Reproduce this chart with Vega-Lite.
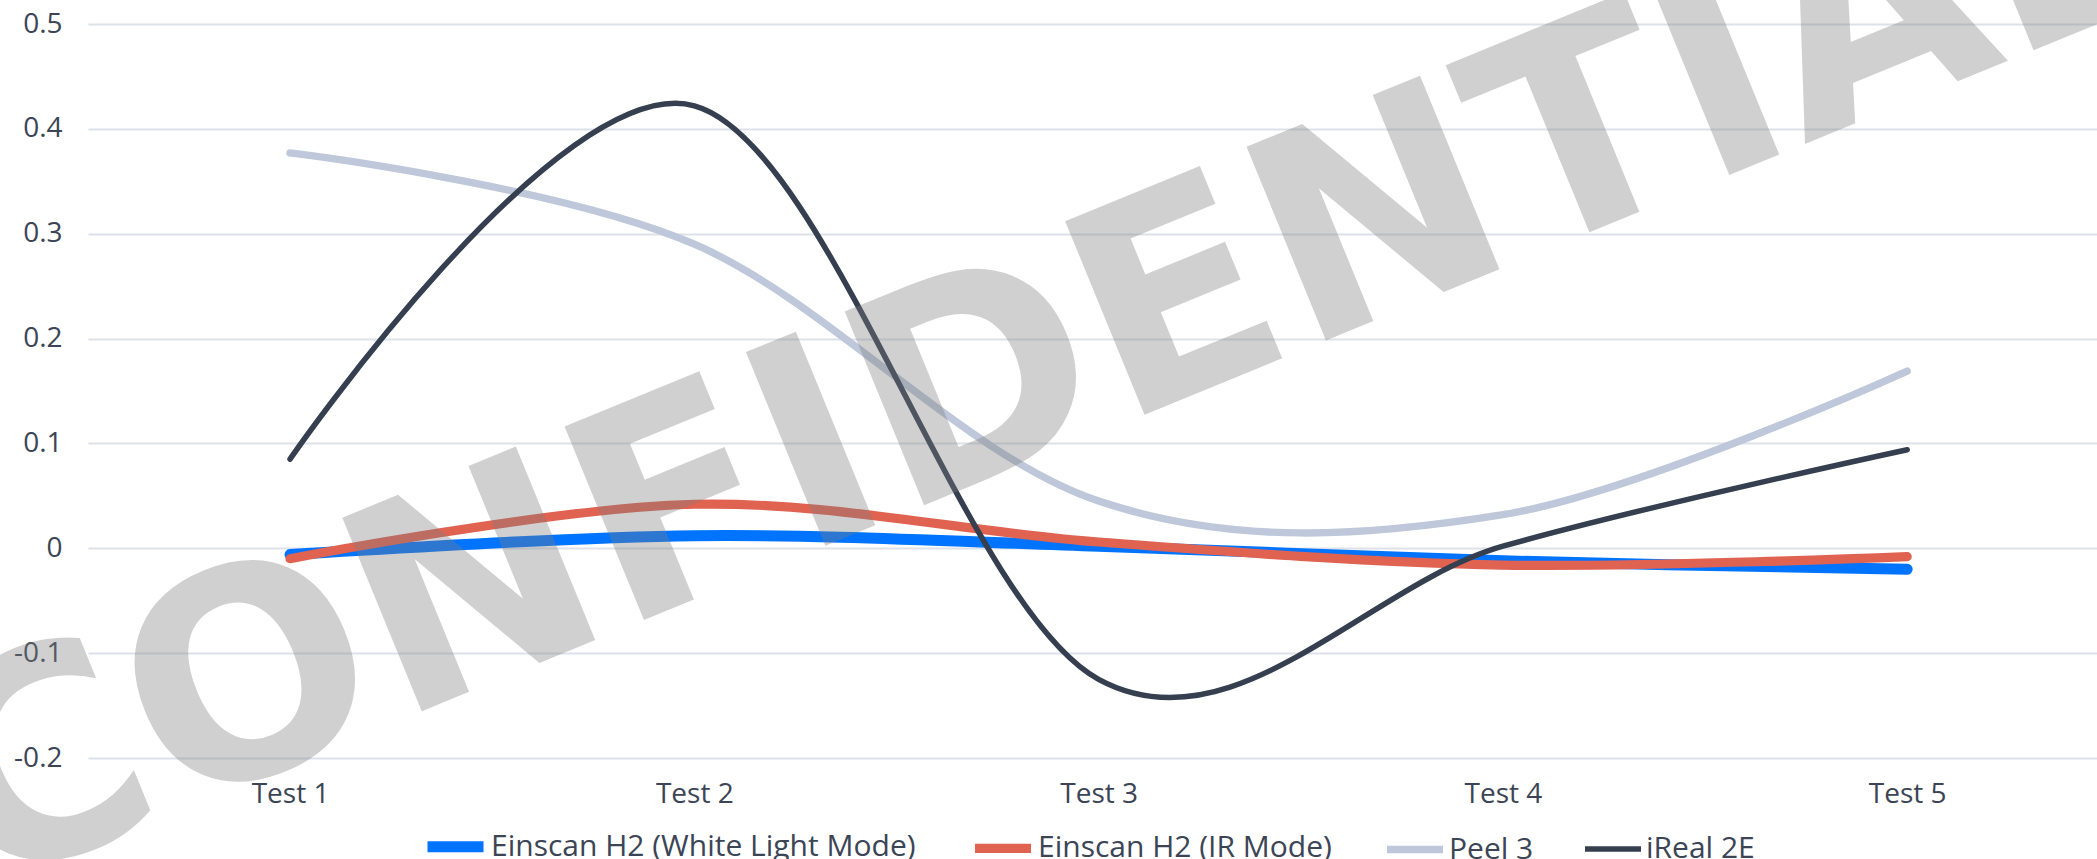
{
  "$schema": "https://vega.github.io/schema/vega-lite/v6.json",
  "autosize": {"type": "none"},
  "padding": {"left": 88, "top": 24, "right": 0, "bottom": 101},
  "width": 2009,
  "height": 734,
  "background": "white",
  "config": {
    "view": {"stroke": null},
    "font": "Open Sans",
    "axis": {"labelFont": "Open Sans", "labelFontSize": 28, "labelColor": "#3B4555", "labelFontWeight": "normal"},
    "legend": {"labelFont": "Open Sans", "labelFontSize": 30, "labelColor": "#3B4555", "labelLimit": 0}
  },
  "layer": [
    {
      "data": {
        "values": [
          {"test": "Test 1", "series": "Einscan H2 (White Light Mode)", "value": -0.006},
          {"test": "Test 2", "series": "Einscan H2 (White Light Mode)", "value": 0.012},
          {"test": "Test 3", "series": "Einscan H2 (White Light Mode)", "value": 0.002},
          {"test": "Test 4", "series": "Einscan H2 (White Light Mode)", "value": -0.012},
          {"test": "Test 5", "series": "Einscan H2 (White Light Mode)", "value": -0.020},
          {"test": "Test 1", "series": "Einscan H2 (IR Mode)", "value": -0.010},
          {"test": "Test 2", "series": "Einscan H2 (IR Mode)", "value": 0.042},
          {"test": "Test 3", "series": "Einscan H2 (IR Mode)", "value": 0.006},
          {"test": "Test 4", "series": "Einscan H2 (IR Mode)", "value": -0.016},
          {"test": "Test 5", "series": "Einscan H2 (IR Mode)", "value": -0.008},
          {"test": "Test 1", "series": "Peel 3", "value": 0.377},
          {"test": "Test 2", "series": "Peel 3", "value": 0.290},
          {"test": "Test 3", "series": "Peel 3", "value": 0.045},
          {"test": "Test 4", "series": "Peel 3", "value": 0.032},
          {"test": "Test 5", "series": "Peel 3", "value": 0.169},
          {"test": "Test 1", "series": "iReal 2E", "value": 0.085},
          {"test": "Test 2", "series": "iReal 2E", "value": 0.422},
          {"test": "Test 3", "series": "iReal 2E", "value": -0.125},
          {"test": "Test 4", "series": "iReal 2E", "value": 0.002},
          {"test": "Test 5", "series": "iReal 2E", "value": 0.094}
        ]
      },
      "mark": {"type": "line", "interpolate": "cardinal", "strokeCap": "round", "strokeJoin": "round"},
      "encoding": {
        "x": {
          "field": "test", "type": "nominal", "sort": null,
          "scale": {"type": "point", "padding": 0.4846, "align": 0.5156},
          "axis": {"title": null, "labelAngle": 0, "domain": false, "ticks": false, "tickSize": 0, "grid": false, "labelPadding": 22}
        },
        "y": {
          "field": "value", "type": "quantitative",
          "scale": {"domain": [-0.2, 0.5], "nice": false, "zero": false},
          "axis": {"title": null, "values": [-0.2, -0.1, 0, 0.1, 0.2, 0.3, 0.4, 0.5], "labelExpr": "replace(format(datum.value, '.1~f'), '\u2212', '-')", "domain": false, "ticks": false, "tickSize": 0, "labelPadding": 26, "gridColor": "#DDE2EA", "gridWidth": 2}
        },
        "color": {
          "field": "series", "type": "nominal",
          "scale": {"domain": ["Einscan H2 (White Light Mode)", "Einscan H2 (IR Mode)", "Peel 3", "iReal 2E"], "range": ["#0074FF", "#E06352", "#BEC8DA", "#353F4F"]},
          "legend": {"title": null, "orient": "none", "legendX": 334, "legendY": 789, "direction": "horizontal", "symbolType": "stroke", "symbolSize": 3136, "labelOffset": 2, "columnPadding": 40}
        },
        "strokeWidth": {
          "field": "series", "type": "nominal",
          "scale": {"domain": ["Einscan H2 (White Light Mode)", "Einscan H2 (IR Mode)", "Peel 3", "iReal 2E"], "range": [11, 5.5, 5.5, 5.5]},
          "legend": {"title": null, "orient": "none", "legendX": 334, "legendY": 789, "direction": "horizontal", "symbolType": "stroke", "symbolSize": 3136, "labelOffset": 2, "columnPadding": 40}
        }
      }
    },
    {
      "data": {"values": [{"w": "CONFIDENTIAL"}]},
      "mark": {"type": "text", "font": "DejaVu Sans", "fontWeight": "bold", "fontSize": 287, "angle": -22.3, "align": "center", "baseline": "middle", "fill": "#7E7E7E", "opacity": 0.36, "dx": -58},
      "encoding": {
        "text": {"field": "w"},
        "x": {"datum": "Test 3"},
        "y": {"datum": 0.198}
      }
    }
  ]
}
